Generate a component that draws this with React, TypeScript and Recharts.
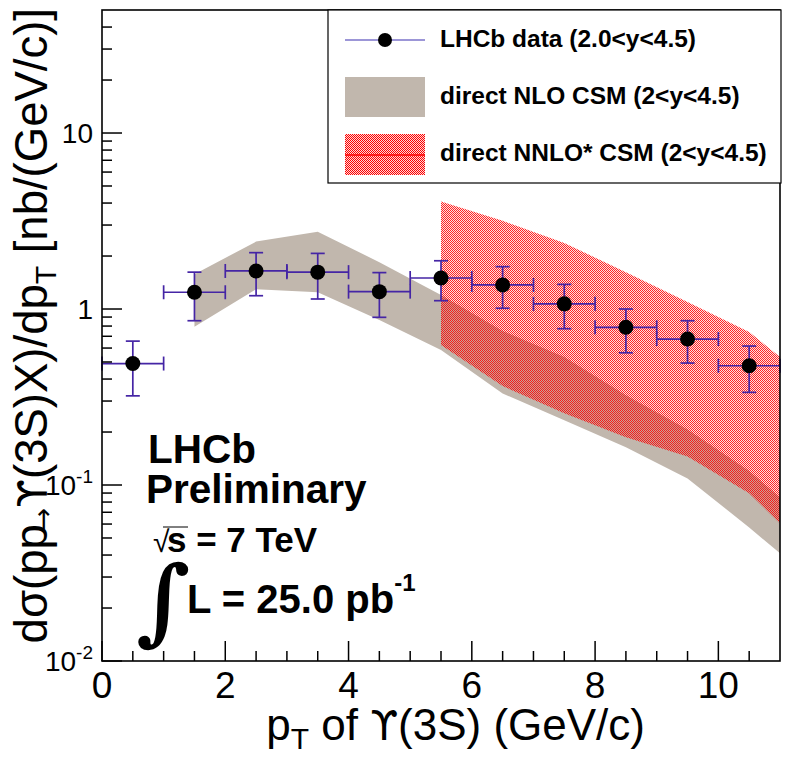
import React from 'react';
import { ComposedChart, XAxis, YAxis, Area, Scatter, ErrorBar } from 'recharts';

// ---- LHCb data (bin centres, values, asymmetric errors) ----
const ptCenters = [0.5, 1.5, 2.5, 3.5, 4.5, 5.5, 6.5, 7.5, 8.5, 9.5, 10.5];
const ptHalfWidths = [0.5, 0.5, 0.5, 0.5, 0.5, 0.5, 0.5, 0.5, 0.5, 0.5, 0.5];
const dataValues = [0.49, 1.245, 1.645, 1.62, 1.255, 1.5, 1.37, 1.07, 0.787, 0.675, 0.476];
const dataErrUp = [0.167, 0.375, 0.445, 0.45, 0.355, 0.38, 0.37, 0.31, 0.213, 0.183, 0.14];
const dataErrDown = [0.169, 0.387, 0.455, 0.48, 0.358, 0.385, 0.36, 0.297, 0.223, 0.182, 0.14];

// ---- direct NLO CSM band ----
const nloPt = [1.5, 2.5, 3.5, 4.5, 5.5, 6.5, 7.5, 8.5, 9.5, 10.5, 11];
const nloLow = [0.793, 1.294, 1.245, 0.866, 0.584, 0.331, 0.233, 0.164, 0.109, 0.0574, 0.0409];
const nloHigh = [1.576, 2.415, 2.75, 1.845, 1.2, 0.75, 0.533, 0.324, 0.207, 0.12, 0.085];

// ---- direct NNLO* CSM band ----
const nnloPt = [5.5, 6.5, 7.5, 8.5, 9.5, 10.5, 11];
const nnloLow = [0.624, 0.365, 0.256, 0.187, 0.145, 0.0897, 0.0605];
const nnloHigh = [4.08, 3.17, 2.37, 1.62, 1.096, 0.74, 0.533];

// ---- axis ticks ----
const xTicks = [0, 0.5, 1, 1.5, 2, 2.5, 3, 3.5, 4, 4.5, 5, 5.5, 6, 6.5, 7, 7.5, 8, 8.5, 9, 9.5, 10, 10.5];
const xMajorLabels = [0, 2, 4, 6, 8, 10];
const yTicks = [
  0.01, 0.02, 0.03, 0.04, 0.05, 0.06, 0.07, 0.08, 0.09,
  0.1, 0.2, 0.3, 0.4, 0.5, 0.6, 0.7, 0.8, 0.9,
  1, 2, 3, 4, 5, 6, 7, 8, 9,
  10, 20, 30, 40,
];

const pointData = ptCenters.map((x, i) => ({
  x,
  y: dataValues[i],
  ex: ptHalfWidths[i],
  ey: [dataErrDown[i], dataErrUp[i]],
}));
const nloData = nloPt.map((x, i) => ({ x, band: [nloLow[i], nloHigh[i]] }));
const nnloData = nnloPt.map((x, i) => ({ x, band: [nnloLow[i], nnloHigh[i]] }));

const FONT = '"Liberation Sans", Arial, Helvetica, sans-serif';
const SYM = '"DejaVu Sans", sans-serif';
const ERR_COLOR = '#4525a5';
const GRAY = '#c1b7ad';

const XTick = (props: any) => {
  const { x, y, payload } = props;
  const v = payload.value;
  const major = xMajorLabels.includes(v);
  return (
    <g>
      <line x1={x} y1={y} x2={x} y2={y - (major ? 20 : 10)} stroke="#000" strokeWidth={1.5} />
      {major && (
        <text x={x} y={y + 37} textAnchor="middle" fontSize={37} fontFamily={FONT} fill="#000">
          {String(v)}
        </text>
      )}
    </g>
  );
};

const YTick = (props: any) => {
  const { x, y, payload } = props;
  const v = payload.value;
  const lg = Math.log10(v);
  const major = Math.abs(lg - Math.round(lg)) < 1e-6;
  const e = Math.round(lg);
  let label: React.ReactNode = null;
  if (major) {
    if (e === 1) label = '10';
    else if (e === 0) label = '1';
    else
      label = (
        <>
          10
          <tspan dy={-12} fontSize={19}>{String(e)}</tspan>
        </>
      );
  }
  return (
    <g>
      <line x1={x} y1={y} x2={x + (major ? 20 : 10)} y2={y} stroke="#000" strokeWidth={1.5} />
      {major && (
        <text x={x - 9} y={y + 10} textAnchor="end" fontSize={28} fontFamily={FONT} fill="#000">
          {label}
        </text>
      )}
    </g>
  );
};

const Overlay = () => (
  <svg width={786} height={761} style={{ position: 'absolute', left: 0, top: 0, pointerEvents: 'none' }}>
    {/* frame */}
    <rect x={102} y={10} width={678} height={651} fill="none" stroke="#000" strokeWidth={1.6} />

    {/* legend */}
    <rect x={328} y={10} width={453} height={173} fill="#fff" stroke="#000" strokeWidth={1.2} />
    <line x1={345} y1={40} x2={425} y2={40} stroke="#3a2fb0" strokeWidth={1.2} />
    <circle cx={385} cy={40} r={7} fill="#000" />
    <text x={440} y={47} fontSize={24.5} fontWeight="bold" fontFamily={FONT} fill="#000">
      LHCb data (2.0&lt;y&lt;4.5)
    </text>
    <rect x={345} y={77} width={80} height={40} fill={GRAY} />
    <text x={440} y={104} fontSize={24.5} fontWeight="bold" fontFamily={FONT} fill="#000">
      direct NLO CSM (2&lt;y&lt;4.5)
    </text>
    <rect x={345} y={134} width={80} height={41} fill="url(#redChecker)" />
    <line x1={345} y1={155} x2={425} y2={155} stroke="#ff0000" strokeWidth={1.5} />
    <text x={440} y={161} fontSize={24.5} fontWeight="bold" fontFamily={FONT} fill="#000">
      direct NNLO* CSM (2&lt;y&lt;4.5)
    </text>

    {/* annotations */}
    <text x={148} y={463} fontSize={40.5} fontWeight="bold" fontFamily={FONT} fill="#000">LHCb</text>
    <text x={146} y={503} fontSize={40.5} fontWeight="bold" fontFamily={FONT} fill="#000">Preliminary</text>
    <text x={153} y={552} fontSize={30} fontFamily={FONT} fill="#000">√</text>
    <line x1={163} y1={527} x2={188} y2={527} stroke="#000" strokeWidth={1} />
    <text x={167} y={552} fontSize={35} fontWeight="bold" fontFamily={FONT} fill="#000">s = 7 TeV</text>
    <text x={136} y={633} fontSize={94} fontWeight="bold" fontFamily={'"DejaVu Serif", serif'} fill="#000">∫</text>
    <text x={187} y={613} fontSize={40} fontWeight="bold" fontFamily={FONT} fill="#000">
      L = 25.0 pb
      <tspan dy={-22} fontSize={24}>-1</tspan>
    </text>

    {/* axis titles */}
    <text x={645} y={740} textAnchor="end" fontSize={44} fontFamily={FONT} fill="#000">
      p<tspan dy={9} fontSize={30}>T</tspan>
      <tspan dy={-9}> of </tspan>
      <tspan fontFamily={SYM} fontSize={40}>ϒ</tspan>
      <tspan>(3S) (GeV/c)</tspan>
    </text>
    <text
      transform="rotate(-90)"
      x={-8}
      y={47}
      textAnchor="end"
      fontSize={45.5}
      fontFamily={FONT}
      fill="#000"
    >
      dσ(pp
      <tspan fontFamily={SYM} fontSize={27} dx={-6} dy={5}>→</tspan>
      <tspan fontFamily={SYM} fontSize={41} dy={-5}>ϒ</tspan>
      <tspan>(3S)X)/dp</tspan>
      <tspan dy={9} fontSize={30}>T</tspan>
      <tspan dy={-9}> [nb/(GeV/c)]</tspan>
    </text>
  </svg>
);

export default function App() {
  return (
    <div style={{ position: 'absolute', left: 0, top: 0, width: 786, height: 761, background: '#fff' }}>
      <svg width={0} height={0} style={{ position: 'absolute' }}>
        <defs>
          <pattern id="redChecker" width={2} height={2} patternUnits="userSpaceOnUse">
            <rect x={0} y={0} width={1} height={1} fill="#ff0000" />
            <rect x={1} y={1} width={1} height={1} fill="#ff0000" />
            <rect x={1} y={0} width={1} height={1} fill="#ff0000" fillOpacity={0.15} />
            <rect x={0} y={1} width={1} height={1} fill="#ff0000" fillOpacity={0.15} />
          </pattern>
        </defs>
      </svg>
      <ComposedChart
        width={786}
        height={761}
        margin={{ top: 10, right: 6, bottom: 70, left: 42 }}
      >
        <XAxis
          type="number"
          dataKey="x"
          domain={[0, 11]}
          allowDataOverflow
          ticks={xTicks}
          interval={0}
          tickSize={0}
          tickMargin={0}
          axisLine={false}
          tickLine={false}
          height={30}
          tick={<XTick />}
        />
        <YAxis
          type="number"
          scale="log"
          domain={[0.01, 50]}
          allowDataOverflow
          ticks={yTicks}
          interval={0}
          tickSize={0}
          tickMargin={0}
          axisLine={false}
          tickLine={false}
          width={60}
          tick={<YTick />}
        />
        <Area
          data={nloData}
          dataKey="band"
          type="linear"
          fill={GRAY}
          fillOpacity={1}
          stroke="none"
          isAnimationActive={false}
        />
        <Area
          data={nnloData}
          dataKey="band"
          type="linear"
          fill="url(#redChecker)"
          fillOpacity={0.85}
          stroke="none"
          isAnimationActive={false}
        />
        <Scatter
          data={pointData}
          dataKey="y"
          fill="#000"
          isAnimationActive={false}
          shape={(p: any) => <circle cx={p.cx} cy={p.cy} r={7.5} fill="#000" />}
        >
          <ErrorBar dataKey="ex" direction="x" width={7} stroke={ERR_COLOR} strokeWidth={1.7} />
          <ErrorBar dataKey="ey" direction="y" width={7} stroke={ERR_COLOR} strokeWidth={1.7} />
        </Scatter>
      </ComposedChart>
      <Overlay />
    </div>
  );
}
